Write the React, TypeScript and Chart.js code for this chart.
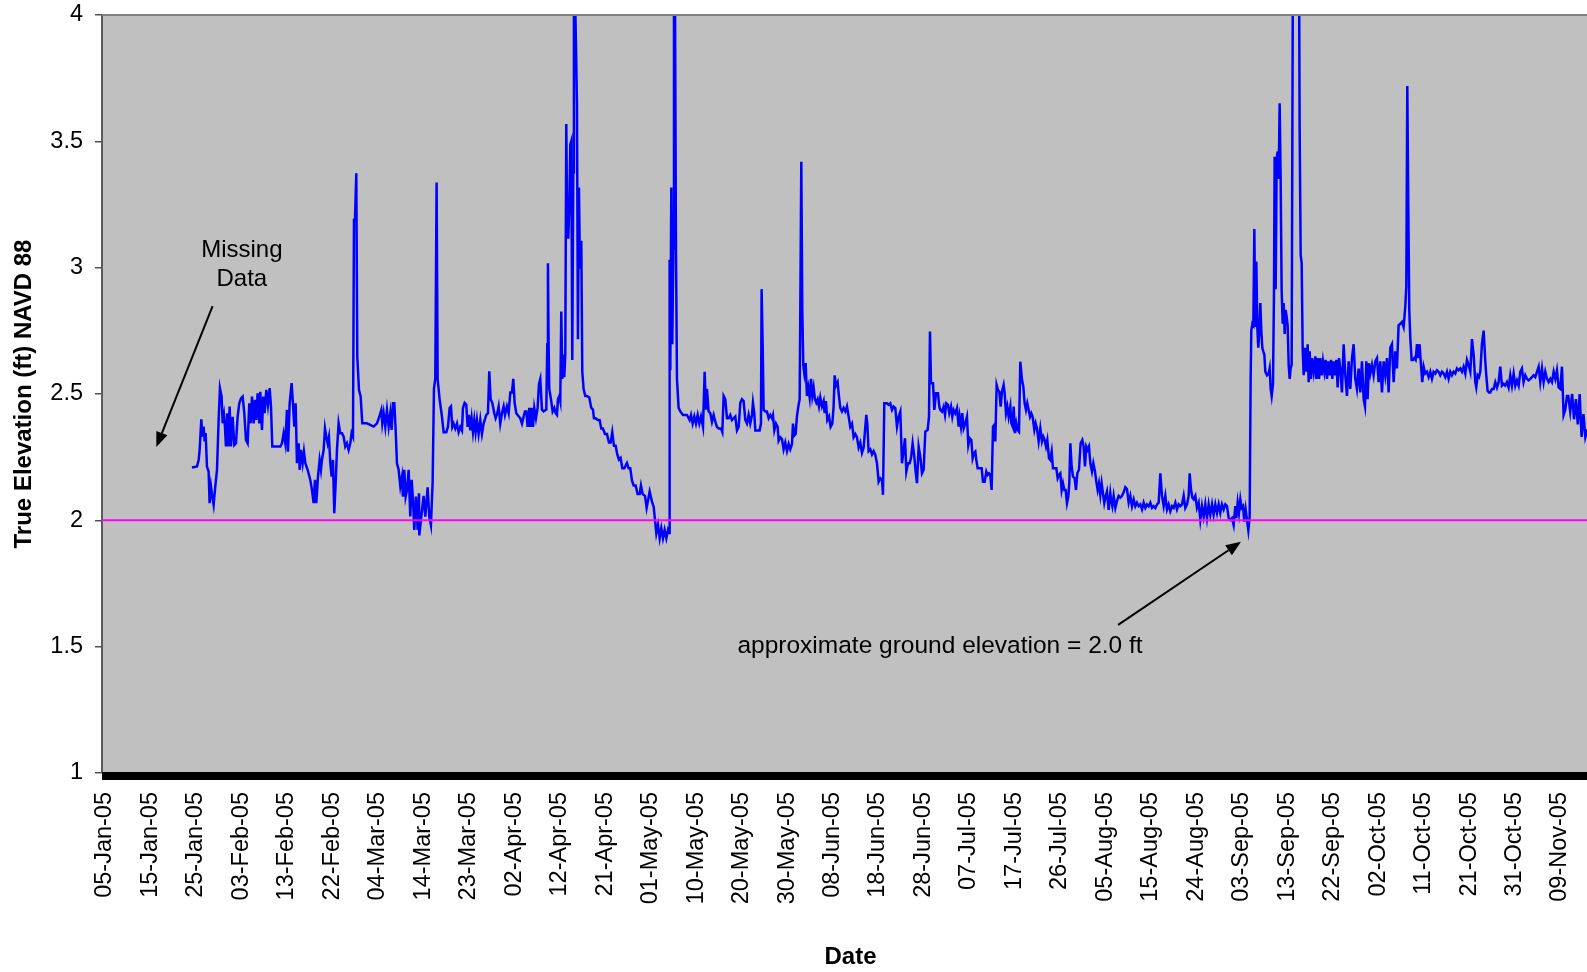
import { useEffect, useRef } from "react";
import { Chart, registerables } from "chart.js";

Chart.register(...registerables);

// ---------- tick labels (category-style, evenly spaced) ----------
const tickLabels = [
  "05-Jan-05", "15-Jan-05", "25-Jan-05", "03-Feb-05", "13-Feb-05", "22-Feb-05",
  "04-Mar-05", "14-Mar-05", "23-Mar-05", "02-Apr-05", "12-Apr-05", "21-Apr-05",
  "01-May-05", "10-May-05", "20-May-05", "30-May-05", "08-Jun-05", "18-Jun-05",
  "28-Jun-05", "07-Jul-05", "17-Jul-05", "26-Jul-05", "05-Aug-05", "15-Aug-05",
  "24-Aug-05", "03-Sep-05", "13-Sep-05", "22-Sep-05", "02-Oct-05", "11-Oct-05",
  "21-Oct-05", "31-Oct-05", "09-Nov-05",
];
const LAST_TICK_DAY = 308; // 09-Nov-05, days after 05-Jan-05
const X_MAX_DAY = 314.35;
const Y_MIN = 1;
const Y_MAX = 4;
const Y_STEP = 0.5;
const GROUND_ELEVATION = 2.0;
const X_TITLE = "Date";
const Y_TITLE = "True Elevation (ft) NAVD 88";

// ---------- readings: [days after 05-Jan-05, elevation ft NAVD88] ----------
const janFebReadings: [number, number][] = [
  [19.04,2.209],[20.10,2.213],[20.46,2.239],[20.67,2.279],[21.02,2.400],[21.23,2.331],[21.51,2.371],[21.73,2.312],
  [21.94,2.345],[22.22,2.213],[22.57,2.193],[22.78,2.068],[23.07,2.134],[23.35,2.094],[23.63,2.061],[23.98,2.134],
  [24.34,2.200],[24.69,2.397],[24.97,2.523],[25.32,2.490],[25.54,2.384],[25.82,2.417],[26.03,2.371],[26.24,2.292],
  [26.52,2.424],[26.74,2.292],[27.02,2.450],[27.30,2.292],[27.65,2.410],[28.01,2.298],[28.36,2.305],[28.71,2.410],
  [29.06,2.463],[29.42,2.483],[29.77,2.490],[30.12,2.424],[30.48,2.318],[30.83,2.305],[31.18,2.463],[31.46,2.384],
  [31.75,2.490],[32.10,2.384],[32.38,2.477],[32.66,2.397],[32.94,2.503],[33.30,2.384],[33.51,2.509],[33.86,2.358],
  [34.14,2.490],[34.43,2.424],[34.78,2.516],[35.13,2.457],[35.49,2.523],[35.77,2.450],[36.05,2.292],[37.74,2.292],
  [38.10,2.305],[38.45,2.345],[38.80,2.305],[39.15,2.437],[39.37,2.272],[39.72,2.463],[40.14,2.543],[40.42,2.463],
  [40.71,2.371],[40.99,2.463],[41.27,2.226],[41.62,2.305],[41.84,2.200],[42.12,2.279],[42.47,2.226],[42.75,2.272],
  [43.04,2.226],[43.53,2.200],[44.09,2.160],[44.45,2.120],[44.80,2.068],[45.08,2.160],[45.36,2.068],[45.72,2.173],
  [46.07,2.239],[46.35,2.200],[46.56,2.239],[46.92,2.279],[47.20,2.364],[47.48,2.331],[47.76,2.305],[48.04,2.331],
  [48.33,2.226],[48.61,2.173],[48.89,2.239],[49.17,2.028],[49.46,2.147],[49.74,2.279],[50.09,2.384],[50.44,2.345],
  [50.80,2.345],[51.15,2.331],[51.50,2.292],[51.85,2.305],[52.21,2.279],[52.56,2.305],[52.84,2.345],[53.13,2.331],
  [53.34,3.189],[53.55,3.189],[53.83,3.374],[54.04,2.648],[54.40,2.516],[54.75,2.490],
];

const marchReadings: [number, number][] = [
  [55.10,2.384],[56.09,2.384],[57.50,2.371],[58.21,2.384],[58.70,2.410],[59.12,2.437],[59.33,2.384],[59.62,2.424],
  [59.97,2.371],[60.32,2.437],[60.68,2.371],[61.03,2.424],[61.31,2.358],[61.59,2.463],[61.88,2.463],[62.16,2.358],
  [62.44,2.226],[62.79,2.200],[63.15,2.134],[63.50,2.173],[63.71,2.094],[64.00,2.200],[64.28,2.094],[64.56,2.120],
  [64.91,2.200],[65.26,2.015],[65.55,2.160],[65.83,2.081],[66.11,1.962],[66.46,2.094],[66.82,1.962],[67.10,2.107],
  [67.17,1.940],[67.59,2.015],[68.08,2.097],[68.44,2.015],[68.93,2.131],[69.28,2.015],[69.63,1.981],[69.99,2.152],
  [70.27,2.520],[70.55,2.560],[70.83,3.337],[71.05,2.560],[71.47,2.479],[71.96,2.411],[72.32,2.349],[72.88,2.349],
  [73.23,2.370],[73.59,2.445],[73.87,2.451],[74.15,2.370],[74.43,2.383],[74.79,2.363],[75.14,2.383],[75.49,2.349],
  [75.84,2.370],[76.20,2.356],[76.41,2.445],[76.76,2.465],[77.11,2.458],[77.40,2.370],[77.68,2.417],[77.96,2.356],
  [78.24,2.404],[78.53,2.349],[78.81,2.397],[79.09,2.349],[79.37,2.397],[79.72,2.342],[80.08,2.397],[80.43,2.342],
  [80.78,2.383],[81.35,2.417],[81.70,2.424],[81.98,2.590],[82.27,2.479],[82.62,2.465],[83.04,2.424],[83.32,2.404],
  [83.68,2.424],[83.96,2.451],[84.31,2.383],[84.66,2.424],[85.02,2.451],[85.30,2.417],[85.72,2.451],
];

const aprilReadings: [number, number][] = [
  [86.08,2.424],[86.43,2.506],[86.78,2.506],[87.06,2.560],[87.35,2.465],[87.70,2.424],[87.98,2.417],[88.54,2.404],
  [88.90,2.383],[89.25,2.411],[89.53,2.431],[89.82,2.431],[90.10,2.370],[90.45,2.445],[90.66,2.370],[90.94,2.445],
  [91.23,2.370],[91.51,2.445],[91.86,2.404],[92.21,2.445],[92.50,2.540],[92.78,2.560],[93.13,2.438],[93.48,2.431],
  [94.05,2.438],[94.26,2.697],[94.40,3.017],[94.54,2.697],[94.68,2.520],[95.04,2.479],[95.39,2.431],[95.74,2.445],
  [96.02,2.424],[96.31,2.417],[96.52,2.479],[96.80,2.492],[97.01,2.472],[97.22,2.826],[97.44,2.560],[97.65,2.656],
  [97.86,2.567],[98.07,2.656],[98.28,3.569],[98.49,3.119],[98.71,3.119],[98.92,3.242],[99.13,3.487],[99.34,3.501],
  [99.55,2.635],[99.76,3.378],[99.90,4.100],[100.12,4.100],[100.33,3.882],[100.54,3.651],[100.75,2.717],[100.96,3.317],
  [101.18,2.997],[101.46,3.106],[101.67,2.588],[101.95,2.520],[102.30,2.492],[102.66,2.492],[103.15,2.486],[103.57,2.445],
  [103.93,2.438],[104.14,2.404],[104.49,2.404],[104.92,2.397],[105.34,2.397],[105.69,2.363],[106.04,2.363],[106.47,2.342],
  [106.89,2.342],[107.31,2.308],[107.67,2.308],[108.02,2.349],[108.37,2.295],[108.73,2.295],[109.08,2.261],[109.43,2.240],
  [109.78,2.247],[110.14,2.206],[110.56,2.206],[111.12,2.227],[111.48,2.206],[111.83,2.206],[112.18,2.158],[112.54,2.138],
  [112.96,2.138],[113.38,2.104],[113.81,2.104],[114.09,2.138],[114.44,2.104],[114.94,2.097],[115.29,2.049],[115.93,2.114],
];

const mayReadings: [number, number][] = [
  [116.42,2.074],[116.78,2.054],[117.13,1.988],[117.34,1.949],[117.69,1.982],[118.05,1.929],[118.40,1.969],[118.75,1.929],
  [119.10,1.962],[119.46,1.929],[119.81,1.962],[120.05,1.950],[120.16,3.031],[120.30,2.594],[120.51,3.317],[120.72,2.697],
  [120.94,3.078],[121.08,4.100],[121.29,4.100],[121.50,3.078],[121.71,2.560],[122.06,2.445],[122.42,2.431],[122.98,2.417],
  [123.83,2.417],[124.39,2.397],[124.68,2.417],[125.03,2.383],[125.38,2.411],[125.73,2.383],[126.09,2.417],[126.44,2.383],
  [126.79,2.411],[127.22,2.370],[127.57,2.588],[127.85,2.438],[128.06,2.520],[128.41,2.431],[128.77,2.424],[129.12,2.390],
  [129.47,2.417],[129.83,2.390],[130.18,2.370],[130.53,2.363],[131.03,2.363],[131.31,2.349],[131.59,2.492],[131.94,2.479],
  [132.30,2.404],[132.65,2.404],[133.00,2.417],[133.35,2.397],[133.71,2.404],[134.06,2.411],[134.41,2.356],[134.77,2.370],
  [135.12,2.465],[135.47,2.479],[135.82,2.472],[136.18,2.397],[136.53,2.383],[136.88,2.417],[137.23,2.383],[137.59,2.417],
  [137.80,2.465],[138.08,2.424],[138.29,2.356],[138.65,2.356],[139.21,2.356],[139.49,2.383],[139.63,2.915],[139.85,2.697],
  [140.06,2.438],[140.41,2.431],[140.76,2.431],[141.12,2.404],[141.47,2.417],[141.82,2.404],[142.03,2.417],[142.32,2.356],
  [142.67,2.383],[143.02,2.370],[143.23,2.315],[143.59,2.329],[143.94,2.322],[144.29,2.281],[144.64,2.308],[145.00,2.274],
  [145.35,2.302],[145.70,2.281],[146.06,2.302],[146.27,2.383],[146.55,2.336],[146.83,2.342],
];

const juneReadings: [number, number][] = [
  [147.11,2.411],[147.40,2.451],[147.68,2.479],[147.82,2.833],[148.03,3.419],[148.24,2.833],[148.45,2.615],[148.67,2.581],
  [148.95,2.622],[149.23,2.492],[149.51,2.526],[149.80,2.486],[150.08,2.560],[150.36,2.492],[150.64,2.526],[150.92,2.479],
  [151.21,2.465],[151.49,2.479],[151.77,2.451],[152.05,2.486],[152.41,2.451],[152.76,2.472],[152.97,2.424],[153.25,2.472],
  [153.53,2.397],[153.89,2.411],[154.24,2.370],[154.59,2.383],[154.87,2.451],[155.09,2.574],[155.37,2.533],[155.72,2.547],
  [156.00,2.492],[156.29,2.445],[156.64,2.431],[156.99,2.445],[157.35,2.431],[157.70,2.451],[158.05,2.411],[158.40,2.370],
  [158.76,2.383],[159.11,2.329],[159.46,2.342],[159.81,2.329],[160.17,2.288],[160.52,2.308],[160.87,2.267],[161.23,2.288],
  [161.58,2.370],[161.79,2.417],[162.00,2.383],[162.28,2.274],[162.64,2.281],[162.99,2.261],[163.34,2.274],[163.70,2.259],
  [164.05,2.226],[164.40,2.153],[164.76,2.167],[165.11,2.160],[165.32,2.101],[165.60,2.463],[166.17,2.463],[166.52,2.457],
  [166.87,2.463],[167.23,2.437],[167.58,2.450],[167.93,2.444],[168.28,2.371],[168.64,2.410],[168.99,2.430],[169.34,2.226],
  [169.70,2.279],[169.98,2.325],[170.26,2.193],[170.61,2.226],[170.97,2.226],[171.25,2.246],[171.60,2.305],[171.95,2.252],
  [172.24,2.193],[172.52,2.147],[172.87,2.292],[173.22,2.252],[173.58,2.186],[173.93,2.200],[174.28,2.351],[174.78,2.358],
  [175.06,2.410],[175.27,2.747],[175.48,2.543],[175.91,2.543],[176.19,2.437],[176.54,2.503],[176.96,2.503],
];

const julyReadings: [number, number][] = [
  [177.25,2.450],[177.46,2.437],[177.81,2.430],[178.16,2.450],[178.45,2.417],[178.73,2.463],[179.08,2.457],[179.36,2.424],
  [179.72,2.450],[180.00,2.410],[180.28,2.437],[180.63,2.424],[180.99,2.444],[181.34,2.371],[181.55,2.410],[181.83,2.371],
  [182.11,2.424],[182.40,2.364],[182.75,2.384],[183.10,2.410],[183.38,2.298],[183.67,2.325],[184.02,2.318],[184.30,2.246],
  [184.58,2.265],[184.87,2.272],[185.08,2.239],[185.36,2.206],[185.78,2.206],[186.21,2.206],[186.49,2.153],[186.84,2.153],
  [187.20,2.193],[187.48,2.180],[187.76,2.186],[188.04,2.180],[188.32,2.120],[188.61,2.371],[188.89,2.378],[189.10,2.312],
  [189.38,2.536],[189.67,2.516],[189.95,2.509],[190.23,2.450],[190.51,2.509],[190.86,2.536],[191.08,2.503],[191.36,2.424],
  [191.64,2.450],[191.92,2.410],[192.28,2.450],[192.49,2.384],[192.77,2.371],[192.98,2.450],[193.26,2.345],[193.55,2.384],
  [193.83,2.358],[194.11,2.351],[194.39,2.628],[194.75,2.556],[195.03,2.529],[195.31,2.463],[195.59,2.437],[195.87,2.463],
  [196.16,2.437],[196.44,2.410],[196.72,2.424],[197.00,2.410],[197.36,2.358],[197.64,2.384],[197.92,2.364],[198.27,2.312],
  [198.63,2.364],[198.98,2.312],[199.26,2.331],[199.54,2.318],[199.83,2.292],[200.11,2.318],[200.46,2.246],[200.74,2.239],
  [201.03,2.272],[201.31,2.206],[201.66,2.206],[202.01,2.206],[202.30,2.167],[202.58,2.180],[202.86,2.186],[203.14,2.120],
  [203.42,2.147],[203.71,2.120],[203.99,2.120],[204.27,2.068],[204.55,2.094],[204.76,2.147],[204.98,2.305],[205.26,2.213],
  [205.54,2.173],[205.89,2.167],[206.18,2.120],[206.46,2.186],[206.81,2.200],[207.16,2.305],[207.52,2.318],[207.80,2.292],
];

const augustReadings: [number, number][] = [
  [208.08,2.213],[208.36,2.292],[208.65,2.279],[208.93,2.292],[209.21,2.226],[209.56,2.193],[209.85,2.226],[210.20,2.193],
  [210.48,2.153],[210.76,2.120],[211.04,2.147],[211.33,2.101],[211.61,2.147],[211.89,2.107],[212.17,2.068],[212.46,2.094],
  [212.74,2.114],[213.09,2.041],[213.44,2.107],[213.59,2.083],[213.87,2.056],[214.15,2.097],[214.51,2.049],[214.86,2.077],
  [215.21,2.097],[215.56,2.090],[215.92,2.097],[216.27,2.111],[216.62,2.131],[216.97,2.124],[217.33,2.070],[217.68,2.097],
  [218.03,2.056],[218.39,2.083],[218.74,2.056],[219.09,2.070],[219.44,2.056],[219.80,2.063],[220.15,2.043],[220.50,2.070],
  [220.86,2.049],[221.21,2.063],[221.56,2.056],[221.91,2.070],[222.27,2.049],[222.62,2.056],[222.97,2.049],[223.33,2.063],
  [223.68,2.070],[224.03,2.186],[224.38,2.097],[224.74,2.056],[225.09,2.097],[225.44,2.043],[225.79,2.063],[226.15,2.036],
  [226.50,2.056],[226.85,2.049],[227.21,2.070],[227.56,2.043],[227.91,2.063],[228.26,2.056],[228.62,2.063],[228.97,2.097],
  [229.32,2.049],[229.68,2.063],[230.03,2.097],[230.24,2.186],[230.52,2.124],[230.80,2.090],[231.09,2.083],[231.44,2.097],
  [231.79,2.049],[232.15,2.070],[232.50,2.002],[232.85,2.056],[233.20,2.015],[233.56,2.063],[233.91,2.009],[234.26,2.063],
  [234.61,2.022],[234.97,2.063],[235.32,2.022],[235.67,2.063],[236.03,2.029],[236.38,2.063],[236.73,2.029],[237.08,2.063],
  [237.44,2.043],[237.79,2.063],[238.14,2.056],[238.50,2.009],[238.85,2.002],
];

const septemberReadings: [number, number][] = [
  [239.20,2.009],[239.55,1.981],[239.91,2.056],[240.12,2.009],[240.40,2.070],[240.68,2.029],[240.97,2.083],[241.25,2.049],
  [241.53,2.056],[241.81,1.995],[242.09,2.043],[242.38,2.002],[242.66,1.961],[242.94,2.015],[243.15,2.560],[243.29,2.751],
  [243.51,2.778],[243.72,2.772],[243.93,3.153],[244.14,2.765],[244.35,3.024],[244.56,2.765],[244.77,2.683],[244.99,2.751],
  [245.20,2.860],[245.41,2.751],[245.62,2.683],[245.83,2.669],[246.05,2.656],[246.26,2.588],[246.61,2.574],[246.96,2.581],
  [247.17,2.601],[247.39,2.520],[247.60,2.492],[247.88,2.540],[248.09,2.901],[248.23,3.439],[248.45,2.915],[248.66,3.433],
  [248.87,3.460],[249.08,3.351],[249.29,3.651],[249.50,3.351],[249.71,2.915],[249.93,2.778],[250.14,2.860],[250.35,2.738],
  [250.56,2.833],[250.77,2.806],[250.98,2.772],[251.20,2.615],[251.41,2.560],[251.62,2.601],[251.83,2.615],[252.11,4.300],
  [252.75,4.600],[253.38,4.300],[253.52,3.555],[253.74,3.051],[253.95,3.017],[254.16,2.683],[254.37,2.574],[254.65,2.683],
  [254.94,2.588],[255.22,2.697],[255.43,2.547],[255.64,2.669],[255.92,2.560],[256.14,2.642],[256.49,2.588],[256.84,2.649],
  [257.05,2.560],[257.34,2.642],[257.62,2.560],[257.90,2.642],[258.18,2.574],[258.46,2.629],[258.75,2.588],[259.03,2.635],
  [259.31,2.560],[259.59,2.629],[259.88,2.574],[260.16,2.635],[260.44,2.560],[260.72,2.629],[261.00,2.574],[261.29,2.635],
  [261.57,2.526],[261.85,2.642],[262.13,2.601],[262.48,2.506],[262.83,2.697],[263.19,2.574],[263.54,2.492],[263.89,2.629],
  [264.24,2.520],[264.60,2.642],[264.95,2.697],[265.30,2.560],[265.65,2.520],[266.01,2.601],[266.36,2.506],[266.71,2.629],
  [267.07,2.479],[267.35,2.451],[267.63,2.629],[267.91,2.479],[268.19,2.622],[268.48,2.581],[268.83,2.615],
];

const octNovReadings: [number, number][] = [
  [269.18,2.574],[269.54,2.629],[269.89,2.642],[270.24,2.547],[270.59,2.629],[270.95,2.506],[271.30,2.629],[271.65,2.574],
  [272.01,2.642],[272.36,2.506],[272.71,2.683],[273.06,2.697],[273.42,2.547],[273.77,2.669],[274.12,2.601],[274.47,2.772],
  [274.83,2.778],[275.18,2.785],[275.53,2.765],[275.89,2.847],[276.10,2.928],[276.31,3.719],[276.52,3.242],[276.73,2.833],
  [276.94,2.724],[277.23,2.635],[277.51,2.635],[277.79,2.642],[278.07,2.635],[278.36,2.697],[278.64,2.642],[278.92,2.697],
  [279.20,2.615],[279.48,2.547],[279.77,2.608],[280.12,2.581],[280.47,2.588],[280.83,2.567],[281.18,2.588],[281.53,2.560],
  [281.88,2.588],[282.24,2.581],[282.59,2.594],[282.94,2.588],[283.29,2.574],[283.65,2.588],[284.00,2.581],[284.35,2.567],
  [284.71,2.588],[285.06,2.560],[285.41,2.588],[285.76,2.574],[286.12,2.588],[286.47,2.581],[286.82,2.601],[287.18,2.594],
  [287.53,2.601],[287.88,2.588],[288.23,2.608],[288.59,2.581],[288.94,2.635],[289.29,2.615],[289.65,2.588],[290.00,2.717],
  [290.35,2.656],[290.70,2.547],[290.91,2.526],[291.20,2.574],[291.48,2.567],[291.76,2.588],[292.11,2.697],[292.47,2.751],
  [292.82,2.629],[293.03,2.574],[293.31,2.513],[293.60,2.506],[293.88,2.506],[294.23,2.520],[294.58,2.520],[294.94,2.547],
  [295.29,2.526],[295.64,2.547],[295.99,2.608],[296.35,2.533],[296.70,2.540],[297.05,2.533],[297.41,2.547],[297.76,2.526],
  [298.11,2.574],[298.46,2.533],[298.82,2.581],[299.17,2.533],[299.52,2.554],[299.88,2.533],[300.23,2.588],[300.58,2.601],
  [300.93,2.547],[301.29,2.574],[301.64,2.560],[301.99,2.554],[302.35,2.560],[302.70,2.567],[303.05,2.574],[303.40,2.567],
  [303.76,2.588],[304.11,2.608],[304.46,2.547],[304.82,2.601],[305.17,2.547],[305.52,2.588],[305.87,2.560],[306.23,2.547],
  [306.58,2.560],[306.93,2.547],[307.29,2.588],[307.64,2.560],[307.99,2.594],[308.34,2.526],[308.70,2.520],[309.05,2.608],
  [309.40,2.417],[309.75,2.438],[310.11,2.492],[310.39,2.492],[310.80,2.430],[311.20,2.500],[311.60,2.400],[312.00,2.480],
  [312.40,2.380],[312.80,2.500],[313.20,2.330],[313.60,2.420],[314.00,2.330],[314.40,2.360],
];

// ---------- annotations (in data coordinates: [day, elevation]) ----------
const missingDataLines = ["Missing", "Data"];
const missingTextAt: [number, number] = [29.6, 3.041];
const missingArrowFrom: [number, number] = [23.41, 2.848];
const missingArrowTo: [number, number] = [11.5, 2.29];
const groundText = "approximate ground elevation = 2.0 ft";
const groundTextAt: [number, number] = [177.4, 1.474];
const groundArrowFrom: [number, number] = [215.1, 1.586];
const groundArrowTo: [number, number] = [241.1, 1.915];

const FONT = '"Liberation Sans", Arial, Helvetica, sans-serif';

function drawArrow(ctx: CanvasRenderingContext2D, x1: number, y1: number, x2: number, y2: number) {
  const ang = Math.atan2(y2 - y1, x2 - x1);
  const len = 15;
  const half = 6;
  const bx = x2 - len * Math.cos(ang);
  const by = y2 - len * Math.sin(ang);
  ctx.beginPath();
  ctx.moveTo(x1, y1);
  ctx.lineTo(bx, by);
  ctx.stroke();
  ctx.beginPath();
  ctx.moveTo(x2, y2);
  ctx.lineTo(bx + half * Math.sin(ang), by - half * Math.cos(ang));
  ctx.lineTo(bx - half * Math.sin(ang), by + half * Math.cos(ang));
  ctx.closePath();
  ctx.fill();
}

const decorPlugin = {
  id: "decor",
  beforeDraw(chart: any) {
    const { ctx, chartArea: a } = chart;
    ctx.save();
    ctx.fillStyle = "#c0c0c0";
    ctx.fillRect(a.left, a.top, a.right - a.left, a.bottom - a.top);
    ctx.restore();
  },
  afterDraw(chart: any) {
    const { ctx, chartArea: a, scales } = chart;
    const xs = scales.x;
    const ys = scales.y;
    const px = (p: [number, number]) => [xs.getPixelForValue(p[0]), ys.getPixelForValue(p[1])];
    ctx.save();
    // top border of plot area
    ctx.strokeStyle = "#808080";
    ctx.lineWidth = 2;
    ctx.beginPath();
    ctx.moveTo(a.left, a.top);
    ctx.lineTo(a.right, a.top);
    ctx.stroke();
    // dense category tick band along x axis
    ctx.fillStyle = "#000000";
    ctx.fillRect(a.left, a.bottom - 1, a.right - a.left, 8);

    // x axis title
    ctx.font = `bold 24px ${FONT}`;
    ctx.textAlign = "center";
    ctx.textBaseline = "middle";
    ctx.fillText(X_TITLE, (a.left + a.right) / 2 + 6, chart.height - 14.4);

    // annotations
    ctx.fillStyle = "#000000";
    ctx.strokeStyle = "#000000";
    ctx.lineWidth = 2;
    ctx.font = `24px ${FONT}`;
    ctx.textAlign = "center";
    ctx.textBaseline = "alphabetic";
    const [mx, my] = px(missingTextAt);
    missingDataLines.forEach((line, i) => ctx.fillText(line, mx, my + i * 28.7));
    ctx.font = `24.5px ${FONT}`;
    const [gx, gy] = px(groundTextAt);
    ctx.fillText(groundText, gx, gy);
    const [a1x, a1y] = px(missingArrowFrom);
    const [a2x, a2y] = px(missingArrowTo);
    drawArrow(ctx, a1x, a1y, a2x, a2y);
    const [b1x, b1y] = px(groundArrowFrom);
    const [b2x, b2y] = px(groundArrowTo);
    drawArrow(ctx, b1x, b1y, b2x, b2y);
    ctx.restore();
  },
};

export default function App() {
  const ref = useRef<HTMLCanvasElement>(null);
  useEffect(() => {
    document.body.style.margin = "0";
    document.body.style.overflow = "hidden";
    const canvas = ref.current;
    if (!canvas) return;
    const readings = [
      ...janFebReadings, ...marchReadings, ...aprilReadings, ...mayReadings, ...juneReadings,
      ...julyReadings, ...augustReadings, ...septemberReadings, ...octNovReadings,
    ];
    const tickStep = LAST_TICK_DAY / (tickLabels.length - 1);
    const chart = new Chart(canvas, {
      type: "line",
      data: {
        datasets: [
          {
            label: "ground",
            data: [{ x: 0, y: GROUND_ELEVATION }, { x: X_MAX_DAY, y: GROUND_ELEVATION }],
            borderColor: "#ff00ff",
            borderWidth: 2,
            pointRadius: 0,
            order: 0,
            clip: 0,
          },
          {
            label: "elevation",
            data: readings.map(([x, y]) => ({ x, y })),
            borderColor: "#0000ff",
            borderWidth: 2.5,
            pointRadius: 0,
            tension: 0,
            order: 1,
            clip: 0,
          },
        ],
      },
      options: {
        responsive: false,
        animation: false,
        events: [],
        layout: { padding: { top: 15, left: 0, right: 0, bottom: 0 } },
        plugins: { legend: { display: false }, tooltip: { enabled: false } },
        scales: {
          x: {
            type: "linear",
            min: 0,
            max: X_MAX_DAY,
            afterBuildTicks: (s: any) => {
              s.ticks = tickLabels.map((_, i) => ({ value: i * tickStep }));
            },
            afterFit: (s: any) => {
              s.height = 199;
              s.paddingLeft = 0;
              s.paddingRight = 0;
            },
            ticks: {
              autoSkip: false,
              minRotation: 90,
              maxRotation: 90,
              padding: 19,
              labelOffset: 3,
              color: "#000000",
              font: { family: FONT, size: 23.5 },
              callback: (_v: any, i: number) => tickLabels[i],
            },
            grid: { display: false, drawTicks: false },
            border: { display: false },
            title: { display: false },
          },
          y: {
            min: Y_MIN,
            max: Y_MAX,
            afterBuildTicks: (s: any) => {
              const t = [];
              for (let v = Y_MIN; v <= Y_MAX + 1e-9; v += Y_STEP) t.push({ value: v });
              s.ticks = t;
            },
            afterFit: (s: any) => {
              s.width = 102;
              s.paddingTop = 0;
              s.paddingBottom = 0;
            },
            ticks: {
              padding: 12,
              color: "#000000",
              font: { family: FONT, size: 23.5 },
              callback: (v: any) => String(v),
            },
            grid: { drawOnChartArea: false, drawTicks: true, tickLength: 7, color: "#505050", lineWidth: 1.5 },
            border: { display: true, color: "#5a5a5a", width: 2 },
            title: {
              display: true,
              text: Y_TITLE,
              color: "#000000",
              font: { family: FONT, size: 24, weight: "bold" },
              padding: { top: 9.5, bottom: 0 },
            },
          },
        },
      },
      plugins: [decorPlugin],
    } as any);
    return () => chart.destroy();
  }, []);
  return (
    <div style={{ position: "absolute", left: 0, top: 0, width: 1587, height: 972 }}>
      <canvas ref={ref} width={1587} height={972} style={{ width: 1587, height: 972, display: "block" }} />
    </div>
  );
}
